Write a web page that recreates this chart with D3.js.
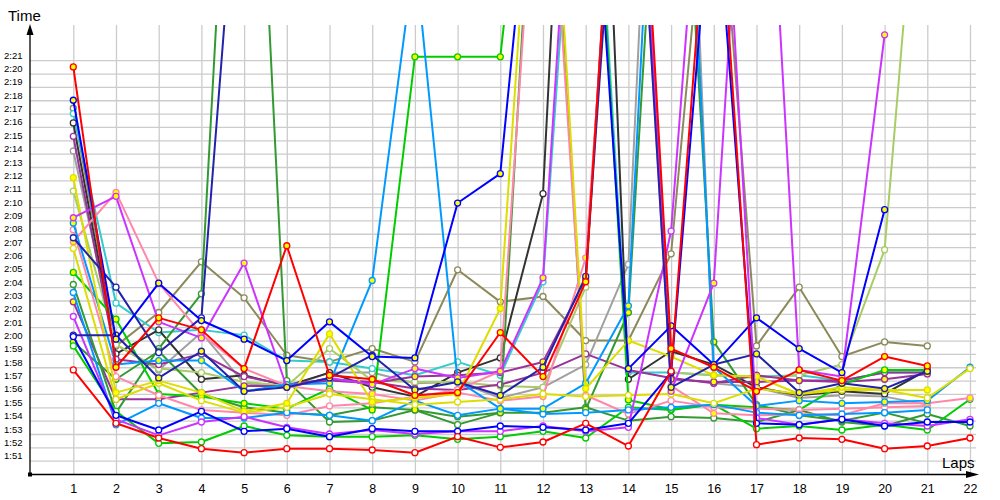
<!DOCTYPE html>
<html><head><meta charset="utf-8">
<script src="https://cdn.jsdelivr.net/npm/d3@7"></script>
<style>body{margin:0;background:#fff}svg{display:block}</style>
</head><body>
<svg id="c" width="1000" height="500"></svg>
<script>
// ---- data (lap times in seconds; large values = pit laps off the top) ----
const laps = d3.range(1, 23);
const yTickValues = d3.range(111, 142);
const yTickLabels = yTickValues.map(s => Math.floor(s/60) + ":" + String(s%60).padStart(2,"0"));

const redY   = [140.5,118.0,121.7,120.8,117.9,127.1,117.4,117.1,115.9,116.1,120.6,117.3,124.4,175,119.4,118.0,116.2,117.8,117.0,118.8,118.1,null];
const redW   = [117.8,113.8,112.7,111.9,111.6,111.9,111.9,111.8,111.6,112.8,112.0,112.4,113.8,112.1,117.7,160,112.2,112.7,112.6,111.9,112.1,112.7];
const blueY  = [138.0,120.1,124.3,121.5,120.1,118.5,121.4,118.8,118.7,130.3,132.5,165,165,117.9,121.1,118.2,121.7,119.4,117.6,129.8,null,null];
const blueW  = [120.3,114.4,113.3,114.7,113.2,113.4,112.8,113.4,113.2,113.2,113.6,113.5,113.3,113.8,117.6,156,113.8,113.7,114.1,113.6,113.9,113.9];
const navyY  = [120.4,120.4,117.2,119.2,116.2,116.5,117.2,118.9,116.3,116.9,115.9,118.0,124.8,170,116.5,118.2,119.0,116.1,116.8,116.4,117.7,null];
const navyW  = [127.7,124.0,119.1,121.7,162.6,null,null,null,null,null,null,null,null,null,null,null,null,null,null,null,null,null];
const tealW  = [137.0,122.8,120.6,120.8,120.4,118.5,118.4,117.9,117.4,118.4,117.4,124.4,170,117.6,117.6,117.4,117.3,117.4,117.0,117.6,117.6,null];
const blackW = [136.3,119.0,120.8,117.1,117.4,116.6,117.6,116.5,115.8,117.6,118.7,131.0,194,117.1,119.2,118.2,116.5,115.9,116.2,116.0,117.8,null];
const oliveW = [137.4,119.6,122.1,125.9,123.2,118.9,118.4,119.4,118.4,125.3,122.9,123.3,120.0,120.0,126.5,161,119.6,124.0,118.8,119.9,119.6,null];
const grayW  = [134.2,119.7,117.8,120.6,116.8,116.5,117.6,117.6,116.8,116.9,115.7,116.5,118.2,125.7,195,116.8,116.5,115.7,115.9,115.8,115.2,null];
const limeW  = [131.2,119.7,117.9,117.6,116.9,116.6,119.4,117.0,116.9,116.9,116.6,116.5,124.0,175,117.6,117.4,117.2,117.4,118.2,126.8,165,null];
const yellY  = [132.2,116.1,117.0,116.1,114.7,115.3,120.5,115.4,115.7,116.0,122.4,170,116.4,120.0,118.8,117.4,117.3,116.0,116.5,116.3,116.3,null];
const yellW  = [126.9,115.6,116.8,115.5,114.6,115.0,116.0,115.6,115.2,115.4,115.6,116.0,115.8,115.9,116.0,115.3,116.4,116.0,116.3,116.3,115.7,117.9];
const violY  = [129.2,130.8,121.4,120.2,125.8,116.5,117.2,116.7,117.9,117.2,117.7,124.7,175,175,116.2,124.3,175,117.8,117.3,142.9,null,null];
const violW  = [121.8,114.1,112.9,113.9,114.3,113.5,113.0,113.3,113.0,113.2,113.2,113.6,113.2,113.5,128.2,170,114.2,113.7,114.1,113.8,113.6,114.1];
const skyY   = [128.8,118.2,118.5,118.5,116.2,116.7,116.8,124.5,149,117.0,114.9,114.9,116.8,122.6,185,118.0,115.1,115.5,115.3,115.4,115.5,118.0];
const skyW   = [123.6,113.7,115.3,114.2,114.2,114.6,114.4,114.0,115.5,114.4,114.9,114.5,114.6,114.8,115.0,115.2,114.6,114.4,114.5,114.6,114.8,null];
const pinkY  = [127.4,131.1,124.3,120.5,117.9,116.6,116.2,116.0,115.5,116.1,115.5,115.8,126.2,170,116.6,114.55,114.4,114.5,114.4,115.3,115.3,115.7];
const pinkW  = [128.3,117.3,115.9,114.8,114.6,114.4,115.1,115.3,115.8,116.3,117.7,165,115.9,114.5,115.5,115.0,114.9,114.8,114.9,115.0,115.1,null];
const greenY = [125.1,121.6,116.0,115.8,115.3,114.9,116.4,114.8,141.25,141.25,141.25,170,170,115.55,114.85,115.2,115.0,114.8,116.7,117.8,117.8,null];
const greenW = [119.6,114.7,112.3,112.4,113.6,112.9,112.8,112.8,112.9,112.6,112.8,113.2,112.7,115.0,114.8,115.2,113.4,113.6,113.3,113.7,113.3,115.6];
const dgreenW= [124.2,114.6,119.4,123.5,182,117.0,113.9,114.0,114.8,113.7,114.6,114.6,115.0,114.0,114.3,114.2,113.9,114.8,113.9,113.6,114.5,113.6];
const dgreenY= [119.9,117.1,119.2,116.0,115.0,114.6,114.4,115.0,114.8,114.3,114.6,170,114.85,122.1,175,119.9,115.2,114.4,114.0,114.6,113.8,null];
const purpY  = [122.9,115.6,115.6,116.1,116.6,116.6,117.0,116.8,117.3,117.4,117.6,118.4,124.6,175,117.1,116.9,116.9,117.0,116.9,117.1,117.5,null];
const purpW  = [135.3,118.6,118.2,119.0,117.3,116.7,117.1,116.9,116.4,116.3,116.7,117.6,119.0,117.8,117.2,116.8,117.4,117.0,117.0,117.6,117.6,null];

// series table: data + drawing style
const series = [
  {v: oliveW, c:"#8c8a5a", f:"#fff"},
  {v: grayW,  c:"#a0a0a0", f:"#fff"},
  {v: tealW,  c:"#33cccc", f:"#fff"},
  {v: blackW, c:"#333333", f:"#fff"},
  {v: limeW,  c:"#a8cc66", f:"#fff"},
  {v: purpW,  c:"#993399", f:"#fff"},
  {v: purpY,  c:"#993399", f:"#ffff00"},
  {v: dgreenW,c:"#339933", f:"#fff"},
  {v: dgreenY,c:"#339933", f:"#ffff00"},
  {v: greenW, c:"#00cc00", f:"#fff"},
  {v: greenY, c:"#00cc00", f:"#ffff00"},
  {v: pinkW,  c:"#ff88aa", f:"#fff"},
  {v: pinkY,  c:"#ff88aa", f:"#ffff00"},
  {v: skyW,   c:"#0099ff", f:"#fff"},
  {v: skyY,   c:"#0099ff", f:"#ffff00"},
  {v: yellW,  c:"#dddd00", f:"#fff"},
  {v: yellY,  c:"#dddd00", f:"#ffff00"},
  {v: violW,  c:"#cc33ff", f:"#fff"},
  {v: violY,  c:"#cc33ff", f:"#ffff00"},
  {v: navyW,  c:"#2222aa", f:"#fff"},
  {v: navyY,  c:"#2222aa", f:"#ffff00"},
  {v: blueW,  c:"#0000ff", f:"#fff"},
  {v: blueY,  c:"#0000ff", f:"#ffff00"},
  {v: redW,   c:"#ff0000", f:"#fff"},
  {v: redY,   c:"#ff0000", f:"#ffff00"}
];

const svg = d3.select("#c");
const x = d3.scaleLinear().domain([1, 22]).range([73.3, 970]);
const y = d3.scaleLinear().domain([111, 141]).range([460.7, 60.2]);
const PL = 30, PR = 976, PT = 25, PB = 474.5;

// horizontal grid + y labels
const ya = svg.append("g").attr("transform", `translate(${PL},0)`)
  .call(d3.axisLeft(y).tickValues(yTickValues).tickFormat((d,i)=>yTickLabels[i])
    .tickSize(-(PR-PL)).tickPadding(0));
ya.select(".domain").remove();
ya.selectAll("line").attr("stroke", "#cccccc").attr("stroke-width", 1.3);
ya.selectAll("text").attr("x", -26).attr("y", -2).attr("dy", 0)
  .attr("text-anchor", "start").attr("fill", "#000")
  .style("font", "9.5px 'Liberation Sans', Arial, sans-serif");

// vertical grid + x labels
const xa = svg.append("g").attr("transform", `translate(0,${PB})`)
  .call(d3.axisBottom(x).tickValues(laps).tickSize(-(PB-PT)).tickPadding(0));
xa.select(".domain").remove();
xa.selectAll("line").attr("stroke", "#cccccc").attr("stroke-width", 1.3);
xa.selectAll("text").attr("y", 18).attr("dy", 0).attr("fill", "#000")
  .style("font", "12.5px 'Liberation Sans', Arial, sans-serif");

// clip
svg.append("clipPath").attr("id", "clip").append("rect")
  .attr("x", PL).attr("y", PT).attr("width", PR-PL+6).attr("height", PB-PT);
const plot = svg.append("g").attr("clip-path", "url(#clip)");

const line = d3.line().defined(d => d[1] != null).x(d => x(d[0])).y(d => y(d[1]));
series.forEach(s => {
  const pts = s.v.map((v,i) => [laps[i], v]);
  plot.append("path").datum(pts).attr("d", line)
    .attr("fill", "none").attr("stroke", s.c).attr("stroke-width", 2)
    .attr("stroke-linejoin", "round");
  plot.selectAll(null).data(pts.filter(d => d[1] != null && d[1] < 143.5)).enter()
    .append("circle").attr("cx", d => x(d[0])).attr("cy", d => y(d[1])).attr("r", 3)
    .attr("fill", s.f).attr("stroke", s.c).attr("stroke-width", 1.3);
});

// axes lines
svg.append("line").attr("x1", PL).attr("x2", PL).attr("y1", PB).attr("y2", PT+4)
  .attr("stroke", "#000").attr("stroke-width", 1.3);
svg.append("path").attr("d", `M${PL},${PT-1} L${PL-3.5},${PT+10} L${PL+3.5},${PT+10} Z`).attr("fill", "#000");
svg.append("line").attr("x1", PL).attr("x2", 968).attr("y1", PB).attr("y2", PB)
  .attr("stroke", "#000").attr("stroke-width", 1.3);
svg.append("path").attr("d", `M979,${PB} L966,${PB-3.5} L966,${PB+3.5} Z`).attr("fill", "#000");
svg.append("rect").attr("x", PL-2).attr("y", PB-2).attr("width", 4).attr("height", 4).attr("fill", "#000");

svg.append("text").attr("x", 8).attr("y", 21).text("Time")
  .style("font", "15px 'Liberation Sans', Arial, sans-serif");
svg.append("text").attr("x", 942).attr("y", 468).text("Laps")
  .style("font", "15px 'Liberation Sans', Arial, sans-serif");
</script>
</body></html>
